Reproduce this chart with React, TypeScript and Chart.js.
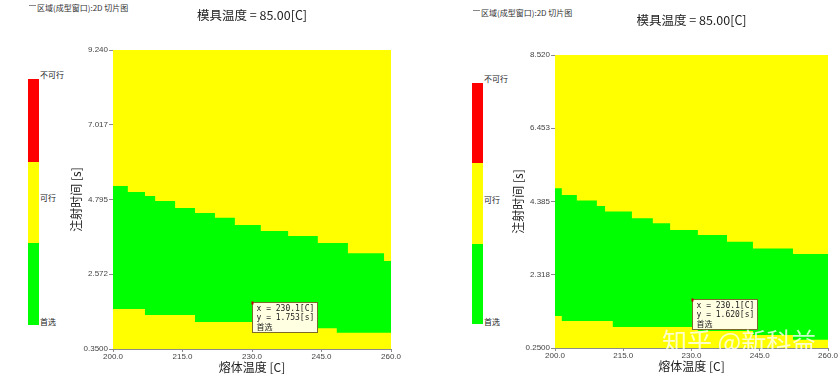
import React, { useEffect, useRef } from "react";
import { Chart, registerables } from "chart.js";

Chart.register(...registerables);

// ---------- shared ----------
const X_TICKS = [200, 215, 230, 245, 260];
const LEGEND_LABELS = ["不可行", "可行", "首选"];
const LEGEND_COLORS = ["#ff0000", "#ffff00", "#00ff00"];
const CAPTION = "区域(成型窗口):2D 切片图";
const TITLE = "模具温度 = 85.00[C]";
const X_TITLE = "熔体温度 [C]";
const Y_TITLE = "注射时间 [s]";
const PROBE_LABEL = "首选";
const WATERMARK = "知乎 @新科益";

// ---------- left slice ----------
const A_Y_TICKS = [0.35, 2.572, 4.795, 7.017, 9.24];
const A_Y_LABELS = ["0.3500", "2.572", "4.795", "7.017", "9.240"];
const A_X = [200, 203.2, 206.9, 209.1, 213.4, 217.7, 222.0, 226.3, 231.9, 237.8, 244.2, 248.3, 250.7, 258.5, 260];
const A_UPPER = [5.2, 5.02, 4.9, 4.75, 4.54, 4.39, 4.25, 4.04, 3.86, 3.71, 3.5, 3.5, 3.2, 2.97, 2.97];
const A_LOWER = [1.54, 1.54, 1.36, 1.36, 1.36, 1.15, 1.15, 1.15, 1.15, 0.97, 0.97, 0.83, 0.83, 0.83, 0.83];
const A_PROBE = [230.1, 1.753];

// ---------- right slice ----------
const B_Y_TICKS = [0.25, 2.318, 4.385, 6.453, 8.52];
const B_Y_LABELS = ["0.2500", "2.318", "4.385", "6.453", "8.520"];
const B_X = [200, 201.5, 204.8, 209.2, 211.0, 212.7, 216.9, 221.5, 225.3, 231.4, 237.8, 243.5, 252.3, 260];
const B_UPPER = [4.76, 4.57, 4.41, 4.26, 4.1, 4.1, 3.91, 3.77, 3.58, 3.44, 3.25, 3.06, 2.9, 2.9];
const B_LOWER = [1.15, 1.01, 1.01, 1.01, 1.01, 0.84, 0.84, 0.84, 0.84, 0.73, 0.73, 0.62, 0.48, 0.48];
const B_PROBE = [230.1, 1.62];

const probePlugin = {
  id: "probe",
  afterDatasetsDraw(chart: any, _args: any, opts: any) {
    const { ctx } = chart;
    const xs = chart.scales.x;
    const ys = chart.scales.y;
    const px = Math.round(xs.getPixelForValue(opts.x)) + 0.5;
    const py = Math.round(ys.getPixelForValue(opts.y)) + 0.5;
    const w = 65;
    const h = 30;
    ctx.save();
    ctx.fillStyle = "#ffffe1";
    ctx.fillRect(px, py, w, h);
    ctx.strokeStyle = "#7d6a2a";
    ctx.lineWidth = 1;
    ctx.strokeRect(px, py, w, h);
    ctx.fillStyle = "#c00000";
    ctx.fillRect(px - 1, py - 1, 2, 3);
    ctx.fillStyle = "#222";
    ctx.font = "8px 'DejaVu Sans Mono', 'Noto Sans CJK SC'";
    ctx.textBaseline = "middle";
    const lines = [
      `x = ${opts.x.toFixed(1)}[C]`,
      `y = ${opts.y.toFixed(3)}[s]`,
      opts.label,
    ];
    lines.forEach((t: string, i: number) => ctx.fillText(t, px + 4, py + 6 + i * 9.5));
    ctx.restore();
  },
};

type PanelProps = {
  left: number;
  xs: number[];
  upper: number[];
  lower: number[];
  yTicks: number[];
  yLabels: string[];
  probe: number[];
  areaLeft: number;
  areaRight: number;
  areaTop: number;
  areaBottom: number;
  titleY: number;
  yTitleX: number;
  xTitleY: number;
};

function SliceChart(p: PanelProps) {
  const ref = useRef<HTMLCanvasElement>(null);
  useEffect(() => {
    const W = 420;
    const H = 377;
    const yMin = p.yTicks[0];
    const yMax = p.yTicks[p.yTicks.length - 1];
    const titleSize = 12.5;
    const titleLH = titleSize * 1.2;
    const axTitleSize = 12;
    const axLH = axTitleSize * 1.2;
    const tickFont = { size: 8, family: "'Liberation Sans', 'DejaVu Sans'" };
    const axisColor = "#8c8c8c";
    const chart = new Chart(ref.current!, {
      type: "line",
      data: {
        datasets: [
          {
            label: "lower",
            data: p.xs.map((x, i) => ({ x, y: p.lower[i] })),
            stepped: true,
            borderColor: "transparent",
            borderWidth: 0,
            pointRadius: 0,
            fill: false,
          },
          {
            label: LEGEND_LABELS[2],
            data: p.xs.map((x, i) => ({ x, y: p.upper[i] })),
            stepped: true,
            borderColor: "transparent",
            borderWidth: 0,
            pointRadius: 0,
            fill: "-1",
            backgroundColor: LEGEND_COLORS[2],
          },
          {
            label: LEGEND_LABELS[1],
            data: [
              { x: X_TICKS[0], y: yMax },
              { x: X_TICKS[X_TICKS.length - 1], y: yMax },
            ],
            borderColor: "transparent",
            borderWidth: 0,
            pointRadius: 0,
            fill: "start",
            backgroundColor: LEGEND_COLORS[1],
          },
        ],
      } as any,
      options: {
        animation: false,
        responsive: false,
        events: [],
        layout: {
          padding: { left: 0, right: W - p.areaRight, top: 0, bottom: 0 },
        },
        plugins: {
          legend: { display: false },
          tooltip: { enabled: false },
          title: {
            display: true,
            text: TITLE,
            fullSize: false,
            color: "#222",
            font: { size: titleSize, family: "'Noto Sans CJK SC'", weight: "normal" },
            padding: {
              top: p.titleY - titleLH / 2,
              bottom: p.areaTop - (p.titleY - titleLH / 2) - titleLH,
            },
          },
          probe: { x: p.probe[0], y: p.probe[1], label: PROBE_LABEL },
        } as any,
        scales: {
          x: {
            type: "linear",
            min: X_TICKS[0],
            max: X_TICKS[X_TICKS.length - 1],
            afterBuildTicks: (s: any) => {
              s.ticks = X_TICKS.map((v) => ({ value: v }));
            },
            afterFit: (s: any) => {
              s.height = H - p.areaBottom;
            },
            ticks: {
              autoSkip: false,
              maxRotation: 0,
              padding: 0,
              color: "#444",
              font: tickFont,
              callback: (v: any) => Number(v).toFixed(1),
            },
            grid: { drawOnChartArea: false, tickLength: 3, color: axisColor },
            border: { color: axisColor },
            title: {
              display: true,
              text: X_TITLE,
              color: "#222",
              font: { size: axTitleSize, family: "'Noto Sans CJK SC'" },
              padding: { top: 0, bottom: H - p.xTitleY - axLH / 2 },
            },
          },
          y: {
            type: "linear",
            min: yMin,
            max: yMax,
            afterBuildTicks: (s: any) => {
              s.ticks = p.yTicks.map((v) => ({ value: v }));
            },
            afterFit: (s: any) => {
              s.width = p.areaLeft;
            },
            ticks: {
              autoSkip: false,
              padding: 1,
              color: "#444",
              font: tickFont,
              callback: (_v: any, i: number) => p.yLabels[i],
            },
            grid: { drawOnChartArea: false, tickLength: 4, color: axisColor },
            border: { color: axisColor },
            title: {
              display: true,
              text: Y_TITLE,
              color: "#222",
              font: { size: axTitleSize, family: "'Noto Sans CJK SC'" },
              padding: { top: p.yTitleX - axLH / 2, bottom: 0 },
            },
          },
        },
      } as any,
      plugins: [probePlugin as any],
    });
    return () => chart.destroy();
  }, []);
  return (
    <canvas
      ref={ref}
      width={420}
      height={377}
      style={{ position: "absolute", left: p.left, top: 0, width: 420, height: 377 }}
    />
  );
}

function ColorBar(props: { x: number; tops: number[]; labelYs: number[]; captionX: number; captionY: number }) {
  const { x, tops, labelYs, captionX, captionY } = props;
  const cjk = "'Noto Sans CJK SC', sans-serif";
  return (
    <>
      <div style={{ position: "absolute", left: captionX - 8, top: captionY - 3, width: 7, height: 1, background: "#888" }} />
      <div
        style={{
          position: "absolute",
          left: captionX,
          top: captionY - 5,
          font: `8px ${cjk}`,
          lineHeight: "10px",
          color: "#333",
          whiteSpace: "nowrap",
        }}
      >
        {CAPTION}
      </div>
      {LEGEND_COLORS.map((c, i) => (
        <div
          key={c}
          style={{
            position: "absolute",
            left: x,
            top: tops[i],
            width: 11,
            height: tops[i + 1] - tops[i],
            background: c,
          }}
        />
      ))}
      {LEGEND_LABELS.map((t, i) => (
        <div
          key={t}
          style={{
            position: "absolute",
            left: x + 12,
            top: labelYs[i] - 5,
            font: `8px ${cjk}`,
            lineHeight: "10px",
            color: "#222",
            whiteSpace: "nowrap",
          }}
        >
          {t}
        </div>
      ))}
    </>
  );
}

export default function App() {
  return (
    <div
      style={{
        position: "absolute",
        left: 0,
        top: 0,
        width: 840,
        height: 377,
        background: "#fff",
        overflow: "hidden",
      }}
    >
      <ColorBar x={28} tops={[79, 162, 243, 325]} labelYs={[75, 198, 322]} captionX={37} captionY={8} />
      <ColorBar x={472} tops={[83, 163, 244, 324]} labelYs={[79, 200, 322]} captionX={481} captionY={13} />
      <SliceChart
        left={0}
        xs={A_X}
        upper={A_UPPER}
        lower={A_LOWER}
        yTicks={A_Y_TICKS}
        yLabels={A_Y_LABELS}
        probe={A_PROBE}
        areaLeft={113}
        areaRight={391}
        areaTop={50}
        areaBottom={349}
        titleY={15}
        yTitleX={76.5}
        xTitleY={367}
      />
      <SliceChart
        left={420}
        xs={B_X}
        upper={B_UPPER}
        lower={B_LOWER}
        yTicks={B_Y_TICKS}
        yLabels={B_Y_LABELS}
        probe={B_PROBE}
        areaLeft={135}
        areaRight={408}
        areaTop={55}
        areaBottom={348}
        titleY={20}
        yTitleX={98}
        xTitleY={366}
      />
      <div
        style={{
          position: "absolute",
          left: 662,
          top: 326,
          font: "25px 'Noto Sans CJK SC', sans-serif",
          lineHeight: "28px",
          color: "rgba(255,255,255,0.8)",
          whiteSpace: "nowrap",
          pointerEvents: "none",
        }}
      >
        {WATERMARK}
      </div>
    </div>
  );
}
